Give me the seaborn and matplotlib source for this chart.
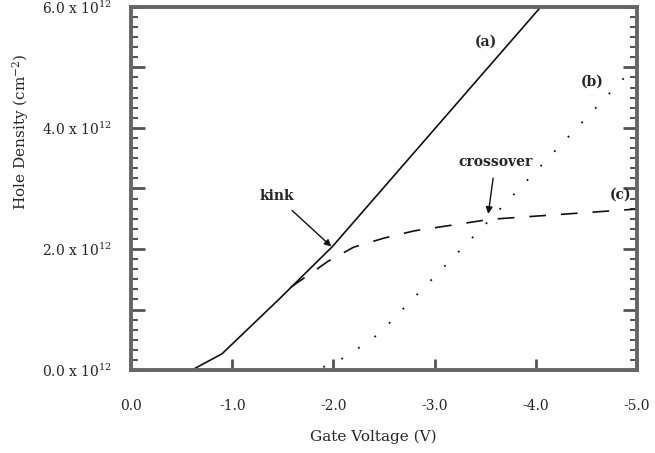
import numpy as np
import seaborn as sns
import matplotlib.pyplot as plt
from matplotlib.ticker import MultipleLocator

# curve (a): solid, kink near -2 V
va = [0.0, -0.6, -0.9, -1.45, -1.99, -4.05]
na = [0.0, 0.0, 0.27, 1.15, 2.04, 6.0]
# curve (b): dotted
vb = [-1.9, -2.1, -2.3, -2.45, -3.55, -5.0]
nb = [0.05, 0.2, 0.42, 0.6, 2.49, 5.05]
# curve (c): dashed
vc = [-1.58, -1.95, -2.2, -2.5, -2.8, -3.55, -5.0]
nc = [1.37, 1.80, 2.03, 2.18, 2.30, 2.49, 2.66]

x_ticks = [0, -1, -2, -3, -4, -5]
x_labels = ['0.0', '-1.0', '-2.0', '-3.0', '-4.0', '-5.0']
y_ticks = [0, 1, 2, 3, 4, 5, 6]
y_labels = [r'0.0 x 10$^{12}$', '', r'2.0 x 10$^{12}$', '',
            r'4.0 x 10$^{12}$', '', r'6.0 x 10$^{12}$']

sns.set_style('white')
plt.rcParams['font.family'] = ['DejaVu Serif']
plt.rcParams['mathtext.fontset'] = 'dejavuserif'

fig = plt.figure(figsize=(6.55, 4.53), dpi=100)
ax = fig.add_axes([0.2, 0.183, 0.7725, 0.802])

ink = '#111111'
sns.lineplot(x=va, y=na, ax=ax, color=ink, lw=1.2, sort=False)
sns.lineplot(x=vb, y=nb, ax=ax, color=ink, lw=1.3, sort=False, linestyle=(0, (1, 10)))
sns.lineplot(x=vc, y=nc, ax=ax, color=ink, lw=1.2, sort=False, linestyle=(0, (10, 9)))

ax.set_xlim(0, -5)
ax.set_ylim(0, 6)
ax.set_xticks(x_ticks)
ax.set_xticklabels(x_labels, fontsize=10)
ax.set_yticks(y_ticks)
ax.set_yticklabels(y_labels, fontsize=10)
ax.yaxis.set_minor_locator(MultipleLocator(1 / 6))

ax.tick_params(axis='y', which='major', direction='in', length=10, width=2,
               color='#555555', left=True, right=True, pad=14)
ax.tick_params(axis='y', which='minor', direction='in', length=5, width=1.5,
               color='#555555', left=True, right=True)
ax.tick_params(axis='x', which='major', direction='in', length=8, width=2,
               color='#555555', bottom=True, top=False, pad=21)
for s in ax.spines.values():
    s.set_linewidth(2.8)
    s.set_color('#666666')

ax.set_xlabel('Gate Voltage (V)', fontsize=11)
ax.set_ylabel('Hole Density (cm$^{-2}$)', fontsize=11)
ax.xaxis.set_label_coords(0.478, -0.163)
ax.yaxis.set_label_coords(-0.198, 0.656)

ax.text(-3.51, 5.42, '(a)', fontsize=10, fontweight='bold', ha='center', va='center')
ax.text(-4.56, 4.76, '(b)', fontsize=10, fontweight='bold', ha='center', va='center')
ax.text(-4.84, 2.90, '(c)', fontsize=10, fontweight='bold', ha='center', va='center')
ax.annotate('kink', xy=(-1.98, 2.04), xytext=(-1.44, 2.87), fontsize=10,
            fontweight='bold', ha='center', va='center',
            arrowprops=dict(arrowstyle='-|>', color=ink, lw=1.0, shrinkA=4, shrinkB=0))
ax.annotate('crossover', xy=(-3.53, 2.58), xytext=(-3.6, 3.43), fontsize=10,
            fontweight='bold', ha='center', va='center',
            arrowprops=dict(arrowstyle='-|>', color=ink, lw=1.0, shrinkA=4, shrinkB=0))

fig.savefig('out.png', dpi=100)
